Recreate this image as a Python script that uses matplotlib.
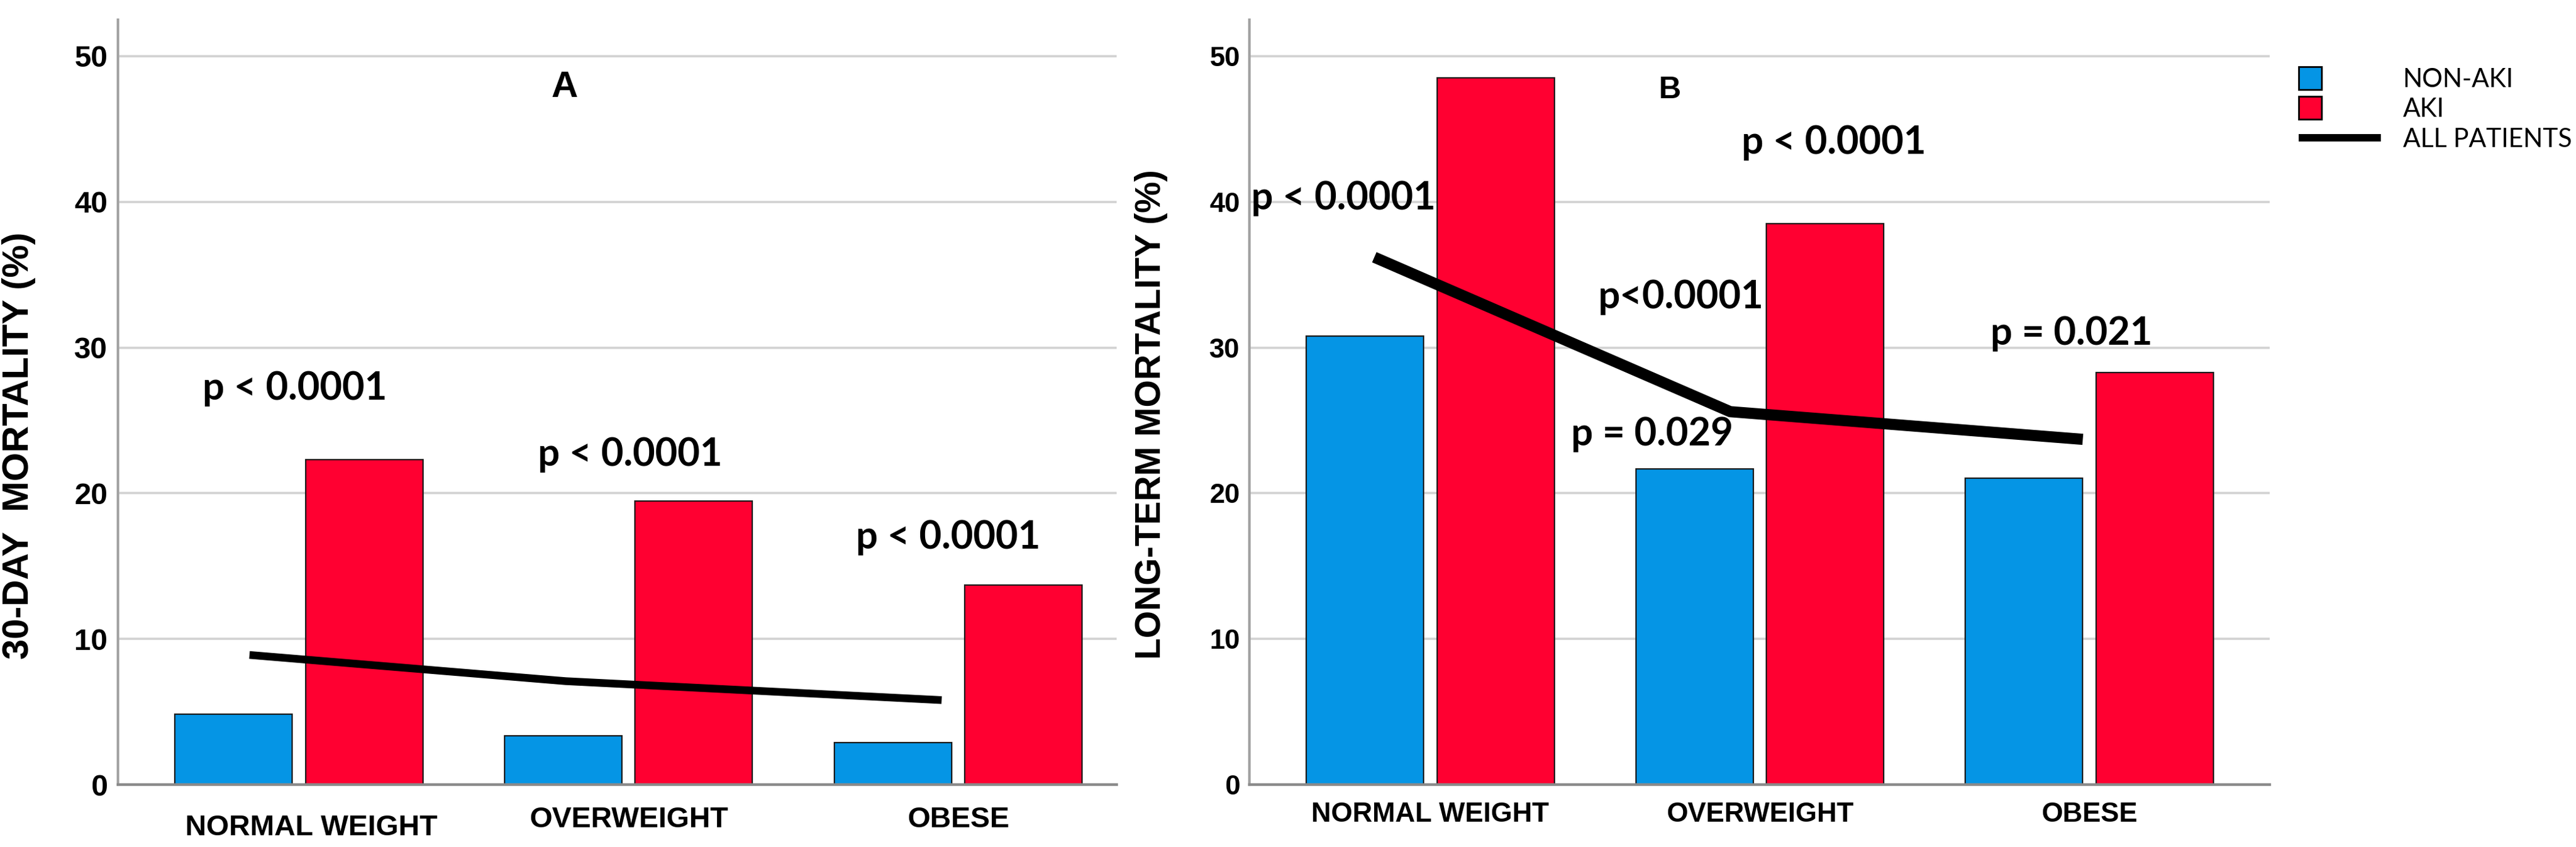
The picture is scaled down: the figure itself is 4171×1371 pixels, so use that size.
import numpy as np
import matplotlib
matplotlib.use('Agg')
import matplotlib.pyplot as plt
import matplotlib.patches as mpatches
import matplotlib.transforms as mtransforms
from matplotlib.lines import Line2D
from matplotlib.legend_handler import HandlerPatch

# data
categories = ['NORMAL WEIGHT', 'OVERWEIGHT', 'OBESE']
non_aki_30d = [4.85, 3.35, 2.9]
aki_30d = [22.3, 19.45, 13.7]
all_30d = [8.9, 7.1, 5.8]
non_aki_lt = [30.8, 21.65, 21.05]
aki_lt = [48.5, 38.5, 28.3]
all_lt = [36.2, 25.6, 23.7]
# where the "all patients" line was drawn along each group
line_pos_a = [-0.15, 0.81, 1.95]
line_pos_b = [-0.17, 0.91, 1.98]
pvals_a = ['p < 0.0001', 'p < 0.0001', 'p < 0.0001']
pvals_b = ['p < 0.0001', 'p<0.0001', 'p < 0.0001', 'p = 0.029', 'p = 0.021']

BLUE = '#0595E5'
RED = '#FF0031'
W, H = 4171, 1371

fig = plt.figure(figsize=(W / 100, H / 100), dpi=100)
axA = fig.add_axes([191 / W, 101 / H, 1617 / W, 1238 / H])
axB = fig.add_axes([2023 / W, 101 / H, 1652 / W, 1238 / H])

x = np.arange(len(categories))
bw = 0.356
off = 0.198

ARIAL = ['Liberation Sans', 'DejaVu Sans']
CAL = ['Lato', 'DejaVu Sans']


def style_axes(ax, xlim):
    ax.set_xlim(*xlim)
    ax.set_ylim(0, 52.5)
    ax.set_yticks([0, 10, 20, 30, 40, 50])
    ax.yaxis.grid(True, color='#d2d2d2', linewidth=2.6)
    ax.set_axisbelow(True)
    for s in ['top', 'right']:
        ax.spines[s].set_visible(False)
    ax.spines['left'].set_color('#a3a3a3')
    ax.spines['left'].set_linewidth(3)
    ax.spines['bottom'].set_color('#8a8a8a')
    ax.spines['bottom'].set_linewidth(3.2)
    ax.spines['bottom'].set_zorder(5)
    ax.tick_params(length=0)
    ax.set_xticks(x)
    ax.set_xticklabels(categories)


def draw(ax, nonaki, aki, allp, linepos, lw):
    ax.bar(x - off, nonaki, bw, color=BLUE, edgecolor='#1a1a1a', linewidth=1.6, zorder=3)
    ax.bar(x + off, aki, bw, color=RED, edgecolor='#1a1a1a', linewidth=1.6, zorder=3)
    ax.plot(linepos, allp, color='black', linewidth=lw, solid_capstyle='butt', zorder=4)


# panel A
style_axes(axA, (-0.549, 2.481))
draw(axA, non_aki_30d, aki_30d, all_30d, line_pos_a, 9)
axA.tick_params(axis='y', pad=12)
axA.tick_params(axis='x', pad=25)
for t in axA.get_yticklabels():
    t.set_fontfamily(ARIAL)
    t.set_fontweight('bold')
    t.set_fontsize(35)
for t in axA.get_xticklabels():
    t.set_fontfamily(ARIAL)
    t.set_fontweight('bold')
    t.set_fontsize(34)
# first label sits a little lower and to the right in the original
lab0 = axA.get_xticklabels()[0]
lab0.set_transform(lab0.get_transform() + mtransforms.ScaledTranslation(0.2, -0.13, fig.dpi_scale_trans))
axA.set_ylabel('30-DAY  MORTALITY (%)', fontsize=43, fontweight='bold', family=ARIAL)
axA.yaxis.set_label_coords(-133 / 1617, 0.443)

axA.text(0.806, 47.2, 'A', ha='center', va='baseline', fontsize=43, fontweight='bold', family=ARIAL)
for xp, yp, s in zip([-0.013, 1.005, 1.97], [26.4, 21.9, 16.2], pvals_a):
    axA.text(xp, yp, s, ha='center', va='baseline', fontsize=45, fontweight='bold', family=CAL)

# panel B
style_axes(axB, (-0.549, 2.547))
draw(axB, non_aki_lt, aki_lt, all_lt, line_pos_b, 13)
axB.tick_params(axis='y', pad=11)
axB.tick_params(axis='x', pad=20)
for t in axB.get_yticklabels():
    t.set_fontfamily(ARIAL)
    t.set_fontweight('bold')
    t.set_fontsize(32)
for t in axB.get_xticklabels():
    t.set_fontfamily(ARIAL)
    t.set_fontweight('bold')
    t.set_fontsize(32)
axB.set_ylabel('LONG-TERM MORTALITY (%)', fontsize=41, fontweight='bold', family=ARIAL)
axB.yaxis.set_label_coords(-132 / 1652, 0.484)

axB.text(0.727, 47.1, 'B', ha='center', va='baseline', fontsize=36, fontweight='bold', family=ARIAL)
for xp, yp, s in zip([-0.264, 0.759, 1.224, 0.673, 1.946], [39.5, 32.7, 43.3, 23.3, 30.2], pvals_b):
    axB.text(xp, yp, s, ha='center', va='baseline', fontsize=45, fontweight='bold', family=CAL)


# legend: squares on the left of the handle box
def square(legend, orig_handle, xdescent, ydescent, width, height, fontsize):
    s = 26.5
    return mpatches.Rectangle((-xdescent, -ydescent + height / 2 - s / 2), s, s)


handles = [mpatches.Patch(facecolor=BLUE, edgecolor='black', linewidth=2),
           mpatches.Patch(facecolor=RED, edgecolor='black', linewidth=2),
           Line2D([], [], color='black', linewidth=8.6, solid_capstyle='butt')]
leg = fig.legend(handles, ['NON-AKI', 'AKI', 'ALL PATIENTS'],
                 loc='upper left', bbox_to_anchor=(3722 / W, 1 - 110 / H),
                 frameon=False, borderpad=0, borderaxespad=0,
                 handlelength=3.2, handletextpad=0.85, labelspacing=0.25,
                 prop={'family': CAL, 'size': 30},
                 handler_map={mpatches.Patch: HandlerPatch(patch_func=square)})

fig.savefig('out.png', dpi=100)
